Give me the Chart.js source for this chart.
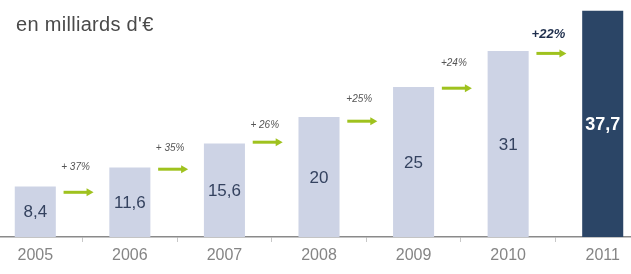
<!DOCTYPE html>
<html>
<head>
<meta charset="utf-8">
<script src="https://cdn.jsdelivr.net/npm/chart.js@4/dist/chart.umd.min.js"></script>
<style>
    html, body { margin: 0; padding: 0; background: #fff; overflow: hidden; }
    #wrap { position: relative; width: 631px; height: 274px; overflow: hidden; }
    #box { position: absolute; left: -12px; top: 0; width: 662px; height: 274px; }
    #unit {
        position: absolute; left: 16px; top: 13px;
        font: 20px "Liberation Sans", Arial, sans-serif;
        color: #4a4a4a; letter-spacing: 0.3px;
    }
</style>
</head>
<body>
<div id="wrap">
    <div id="box"><canvas id="chart"></canvas></div>
    <div id="unit">en milliards d'€</div>
</div>
<script>
// values
const years = ['2005', '2006', '2007', '2008', '2009', '2010', '2011'];
const amounts = [8.4, 11.6, 15.6, 20, 25, 31, 37.7];

// growth between two years, with the level of the arrow and of its label
const growthLabels = ['+ 37%', '+ 35%', '+ 26%', '+25%', '+24%', '+22%'];
const arrowLevels = [7.45, 11.3, 15.8, 19.3, 24.8, 30.6];
const growthLevels = [11.55, 14.8, 18.7, 23, 29, 33.7];

const lightBar = '#cdd3e5';
const darkBar = '#2b4566';
const green = '#9fc21e';

// value written in the middle of every bar
const valueLabels = {
    id: 'valueLabels',
    afterDatasetsDraw(chart) {
        const ctx = chart.ctx;
        const meta = chart.getDatasetMeta(0);
        ctx.save();
        ctx.textAlign = 'center';
        ctx.textBaseline = 'middle';
        meta.data.forEach((bar, i) => {
            const last = i === amounts.length - 1;
            ctx.font = (last ? 'bold 18px' : '17px') + ' "Liberation Sans", Arial, sans-serif';
            ctx.fillStyle = last ? '#ffffff' : '#34425f';
            const text = String(amounts[i]).replace('.', ',');
            ctx.fillText(text, bar.x, (bar.y + bar.base) / 2 + 1);
        });
        ctx.restore();
    }
};

// green arrows and growth rates between the bars
const growthArrows = {
    id: 'growthArrows',
    afterDatasetsDraw(chart) {
        const ctx = chart.ctx;
        const meta = chart.getDatasetMeta(0);
        const y = chart.scales.y;
        ctx.save();
        growthLabels.forEach((label, i) => {
            const cx = (meta.data[i].x + meta.data[i + 1].x) / 2 - 4;
            const ay = y.getPixelForValue(arrowLevels[i]);
            // shaft
            ctx.strokeStyle = green;
            ctx.lineWidth = 3;
            ctx.beginPath();
            ctx.moveTo(cx - 15, ay);
            ctx.lineTo(cx + 9, ay);
            ctx.stroke();
            // head
            ctx.fillStyle = green;
            ctx.beginPath();
            ctx.moveTo(cx + 15, ay);
            ctx.lineTo(cx + 8, ay - 4);
            ctx.lineTo(cx + 8, ay + 4);
            ctx.closePath();
            ctx.fill();

            const last = i === growthLabels.length - 1;
            ctx.font = last ? 'italic bold 13px "Liberation Sans", Arial, sans-serif'
                            : 'italic 10px "Liberation Sans", Arial, sans-serif';
            ctx.fillStyle = last ? '#1f2f4d' : '#555555';
            ctx.textAlign = 'center';
            ctx.textBaseline = 'middle';
            ctx.fillText(label, cx - 3, y.getPixelForValue(growthLevels[i]));
        });
        ctx.restore();
    }
};

const ctx = document.getElementById('chart').getContext('2d');
const chart = new Chart(ctx, {
    type: 'bar',
    data: {
        labels: years,
        datasets: [{
            data: amounts,
            backgroundColor: amounts.map((v, i) => i === amounts.length - 1 ? darkBar : lightBar),
            borderWidth: 0,
            barPercentage: 0.434,
            categoryPercentage: 1,
        }],
    },
    options: {
        responsive: true,
        maintainAspectRatio: false,
        animation: false,
        layout: { padding: 0 },
        plugins: {
            legend: { display: false },
            tooltip: { enabled: false },
        },
        scales: {
            x: {
                grid: {
                    offset: true,
                    drawOnChartArea: false,
                    drawTicks: true,
                    tickLength: 5,
                    color: '#c8c8c8',
                },
                border: { color: '#8a8a8a', width: 1.5 },
                ticks: {
                    color: '#858585',
                    padding: 4,
                    font: { family: '"Liberation Sans", Arial, sans-serif', size: 16 },
                },
                afterFit(scale) {
                    scale.height = 37;
                },
            },
            y: {
                display: false,
                min: 0,
                max: 39.5,
            },
        },
    },
    plugins: [valueLabels, growthArrows],
});
</script>
</body>
</html>
